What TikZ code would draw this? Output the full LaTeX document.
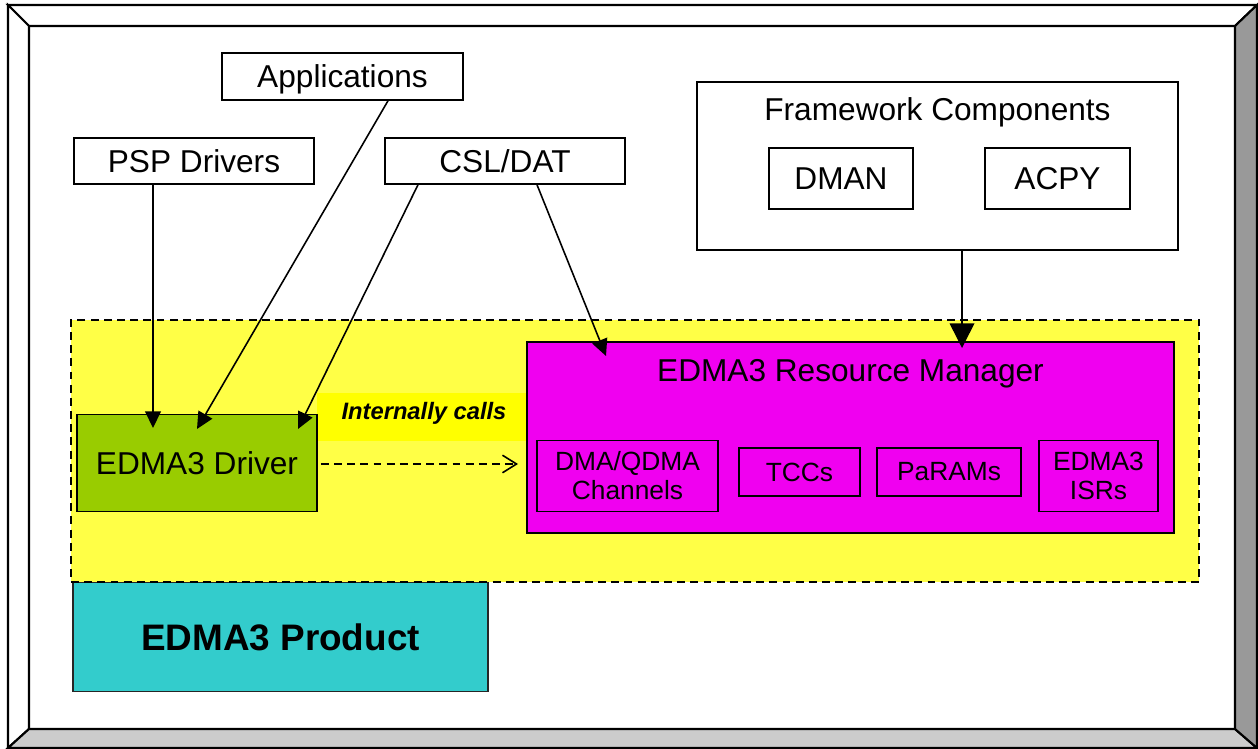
\documentclass[tikz,border=0pt]{standalone}
\usepackage{fontspec}
\setmainfont{Liberation Sans}
\usetikzlibrary{arrows.meta}
\definecolor{mag}{RGB}{240,0,240}
\definecolor{grn}{RGB}{153,204,0}
\definecolor{tealc}{RGB}{51,204,204}
\definecolor{yel}{RGB}{255,255,70}
\definecolor{yelb}{RGB}{255,255,0}
\definecolor{bevl}{RGB}{204,204,204}
\definecolor{bevd}{RGB}{153,153,153}
\begin{document}
\begin{tikzpicture}[x=0.02cm,y=-0.02cm,
  bx/.style 2 args={draw=black, line width=0.9pt, minimum width=#1*0.02cm, minimum height=#2*0.02cm, inner sep=0pt},
  big/.style={font=\fontsize{18}{21}\selectfont, text height=12.9pt, text depth=0pt},
  small/.style={font=\fontsize{15}{16.5}\selectfont, align=center},
  arr/.style={line width=0.9pt, -{Triangle[length=9.5pt,width=9pt]}},
  bigarr/.style={line width=0.9pt, -{Triangle[length=14pt,width=14pt]}},
  bev/.style={draw=black, line width=1.2pt, line join=miter}]
\useasboundingbox (0,0) rectangle (1258,749);
\fill[white] (0,0) rectangle (1258,749);
% bevelled frame
\filldraw[bev, fill=white] (8,5) -- (1257,5) -- (1235,26) -- (29,26) -- cycle;
\filldraw[bev, fill=white] (8,5) -- (29,26) -- (29,729) -- (8,748) -- cycle;
\filldraw[bev, fill=bevl] (8,748) -- (29,729) -- (1235,729) -- (1257,748) -- cycle;
\filldraw[bev, fill=bevd] (1257,5) -- (1235,26) -- (1235,729) -- (1257,748) -- cycle;

% product box
\node[bx={415}{109}, draw=black!85, line width=0.6pt, fill=tealc, font=\fontsize{21}{24}\selectfont\bfseries, text height=15.2pt, text depth=0pt] (prod) at (280.5,637) {EDMA3 Product};

% core region
\node[bx={1128}{262}, fill=yel, line width=1.3pt, dash pattern=on 4.5pt off 3pt] (core) at (635,451) {};
\node[fill=yelb, minimum width=210*0.02cm, minimum height=48*0.02cm, inner sep=0pt] (icp) at (422,417) {};
\node[font=\fontsize{13.5}{16}\selectfont\bfseries\itshape, text height=9.7pt, text depth=0pt] (ic) at (424,411) {Internally calls};

% top boxes
\node[bx={241}{47}, big] (app) at (342.5,76.5) {Applications};
\node[bx={240}{46}, big] (psp) at (194,161) {PSP Drivers};
\node[bx={240}{46}, big] (csl) at (505,161) {CSL/DAT};
\node[bx={481}{168}] (fw) at (937.5,166) {};
\node[big] (fwt) at (937.5,109) {Framework Components};
\node[bx={144}{61}, big] (dman) at (841,178.5) {DMAN};
\node[bx={145}{61}, big] (acpy) at (1057.5,178.5) {ACPY};

% resource manager
\node[bx={647}{191}, fill=mag, line width=1.1pt] (rm) at (850.5,437.5) {};
\node[big] (rmt) at (850.5,370) {EDMA3 Resource Manager};
\node[bx={181}{71}, small] (dmaq) at (627.5,476) {DMA/QDMA\\Channels};
\node[bx={121}{48}, small] (tcc) at (799.5,472) {TCCs};
\node[bx={144}{48}, small] (prm) at (949,472) {PaRAMs};
\node[bx={119}{71}, small] (isr) at (1098.5,476) {EDMA3\\ISRs};

% driver
\node[bx={240}{97}, fill=grn, big] (drv) at (197,463) {EDMA3 Driver};

% connectors
\coordinate (t1) at (153,428);
\draw[arr] (psp.south -| t1) -- (t1);
\coordinate (s2) at (388,0);
\coordinate (t2) at (197,429);
\draw[arr] (app.south -| s2) -- (t2);
\coordinate (s3) at (418,0);
\coordinate (t3) at (298,429);
\draw[arr] (csl.south -| s3) -- (t3);
\coordinate (s4) at (537,0);
\coordinate (t4) at (606,356);
\draw[arr] (csl.south -| s4) -- (t4);
\coordinate (s5) at (962,0);
\coordinate (t5) at (962,348);
\draw[bigarr] (fw.south -| s5) -- (t5);
\coordinate (t6) at (518,464);
\draw[line width=0.9pt, dash pattern=on 4.5pt off 3pt, -{Straight Barb[length=8pt,width=10pt]}] (drv.east |- t6) ++(3,0) -- (t6);
\end{tikzpicture}
\end{document}
